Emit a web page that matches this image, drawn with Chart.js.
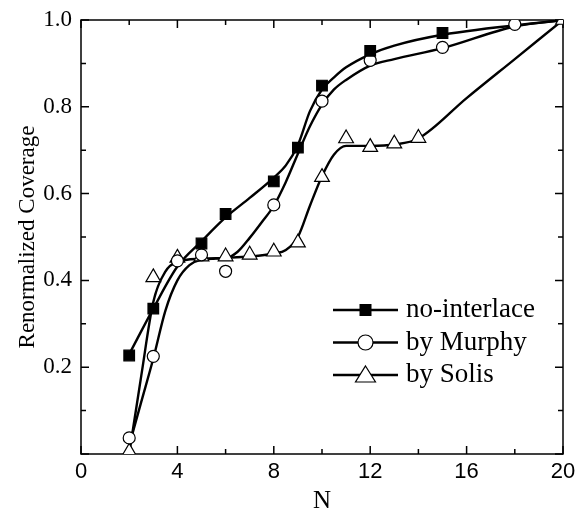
<!DOCTYPE html>
<html>
<head>
<meta charset="utf-8">
<script src="https://cdn.jsdelivr.net/npm/chart.js@4"></script>
<style>
  html, body { margin: 0; padding: 0; background: #fff; }
  #wrap { width: 576px; height: 516px; }
</style>
</head>
<body>
<div id="wrap"><canvas id="chart" width="576" height="516"></canvas></div>
<script>
// ── Datos ────────────────────────────────────────────────────
const xTickLabels = [0, 4, 8, 12, 16, 20];
const yTickLabels = [0.2, 0.4, 0.6, 0.8, 1.0];

// marcadores
const nNoInterlace   = [2, 3, 5, 6, 8, 9, 10, 12, 15];
const covNoInterlace = [0.227, 0.335, 0.485, 0.553, 0.628, 0.706, 0.849, 0.929, 0.970];

const nMurphy   = [2, 3, 4, 5, 6, 8, 10, 12, 15, 18];
const covMurphy = [0.037, 0.225, 0.445, 0.459, 0.421, 0.574, 0.813, 0.907, 0.937, 0.990];

const nSolis   = [2, 3, 4, 5, 6, 7, 8, 9, 10, 11, 12, 13, 14, 20];
const covSolis = [0.005, 0.407, 0.452, 0.455, 0.455, 0.459, 0.466, 0.487, 0.638, 0.727, 0.707, 0.715, 0.728, 1.0];

const fitNoInterlaceN = [2, 3, 4, 5, 6, 7, 8, 8.5, 9, 9.5, 10, 10.5, 11, 12, 13, 15, 20];
const fitNoInterlace  = [0.23, 0.335, 0.432, 0.49, 0.545, 0.59, 0.637, 0.665, 0.712, 0.79, 0.84, 0.868, 0.891, 0.921, 0.941, 0.966, 1.0];

const fitMurphyN = [2, 2.5, 3, 3.5, 4, 4.5, 5, 5.5, 6, 6.5, 7, 7.5, 8, 8.5, 9, 9.5, 10, 10.5, 11, 12, 13, 15, 18, 20];
const fitMurphy  = [0.02, 0.12, 0.22, 0.33, 0.40, 0.435, 0.448, 0.45, 0.451, 0.466, 0.498, 0.534, 0.572, 0.627, 0.692, 0.755, 0.805, 0.84, 0.862, 0.895, 0.91, 0.935, 0.985, 1.0];

const fitSolisN = [2, 2.5, 3, 3.5, 4, 5, 6, 7, 8, 8.5, 9, 9.5, 10, 10.5, 11, 12, 13, 14, 16, 18, 20];
const fitSolis  = [0.0, 0.18, 0.35, 0.42, 0.443, 0.45, 0.452, 0.455, 0.462, 0.47, 0.5, 0.572, 0.64, 0.69, 0.71, 0.71, 0.713, 0.727, 0.82, 0.91, 1.0];

const SERIF = "'Liberation Serif', 'Times New Roman', serif";
const SANS  = "'Liberation Sans', Arial, sans-serif";

const pares = (xs, ys) => xs.map((x, i) => ({ x, y: ys[i] }));

function curva(xs, ys) {
  return {
    data: pares(xs, ys), showLine: true, pointRadius: 0,
    borderColor: '#000', borderWidth: 2.4, cubicInterpolationMode: 'monotone',
    order: 2
  };
}

function marcas(label, xs, ys, estilo, relleno, radio) {
  return {
    label, data: pares(xs, ys), showLine: false,
    pointStyle: estilo, pointRadius: radio, pointBackgroundColor: relleno,
    pointBorderColor: '#000', pointBorderWidth: 1.2, order: 1
  };
}

// ── Marco con ticks hacia adentro ────────────────────────────
const marcoTicks = {
  id: 'marcoTicks',
  beforeDatasetsDraw(chart) {
    const { ctx, chartArea: a, scales: { x, y } } = chart;
    ctx.save();
    ctx.strokeStyle = '#000';
    ctx.lineWidth = 1.5;
    ctx.strokeRect(a.left, a.top, a.right - a.left, a.bottom - a.top);
    ctx.beginPath();
    for (let v = 0; v <= 20; v += 2) {
      const px = x.getPixelForValue(v);
      const len = v % 4 === 0 ? 8 : 5;
      ctx.moveTo(px, a.bottom); ctx.lineTo(px, a.bottom - len);
      ctx.moveTo(px, a.top);    ctx.lineTo(px, a.top + len);
    }
    for (let i = 0; i <= 10; i++) {
      const py = y.getPixelForValue(i / 10);
      const len = i % 2 === 0 ? 8 : 5;
      ctx.moveTo(a.left, py);  ctx.lineTo(a.left + len, py);
      ctx.moveTo(a.right, py); ctx.lineTo(a.right - len, py);
    }
    ctx.stroke();
    ctx.restore();
  }
};

// ── Leyenda dentro del área ─────────────────────────────────
const leyenda = {
  id: 'leyenda',
  afterDraw(chart) {
    const { ctx, chartArea: a } = chart;
    const items = [
      { t: 'no-interlace', s: 'rect' },
      { t: 'by Murphy', s: 'circle' },
      { t: 'by Solis', s: 'triangle' }
    ];
    const x0 = a.right - 230, x1 = a.right - 165, xm = (x0 + x1) / 2;
    ctx.save();
    ctx.font = '27px ' + SERIF;
    ctx.textBaseline = 'middle';
    ctx.fillStyle = '#000';
    items.forEach((it, i) => {
      const yy = a.top + 290 + i * 32.5;
      ctx.strokeStyle = '#000';
      ctx.lineWidth = 2.4;
      ctx.beginPath(); ctx.moveTo(x0, yy); ctx.lineTo(x1, yy); ctx.stroke();
      ctx.lineWidth = 1.2;
      ctx.beginPath();
      if (it.s === 'rect') {
        ctx.fillStyle = '#000';
        ctx.fillRect(xm - 6, yy - 6, 12, 12);
      } else if (it.s === 'circle') {
        ctx.fillStyle = '#fff';
        ctx.arc(xm, yy, 7.5, 0, Math.PI * 2);
        ctx.fill(); ctx.stroke();
      } else {
        ctx.fillStyle = '#fff';
        ctx.moveTo(xm, yy - 9); ctx.lineTo(xm + 10, yy + 7); ctx.lineTo(xm - 10, yy + 7); ctx.closePath();
        ctx.fill(); ctx.stroke();
      }
      ctx.fillStyle = '#000';
      ctx.fillText(it.t, x1 + 8, yy);
    });
    ctx.restore();
  }
};

new Chart(document.getElementById('chart'), {
  type: 'scatter',
  data: {
    datasets: [
      curva(fitNoInterlaceN, fitNoInterlace),
      curva(fitMurphyN, fitMurphy),
      curva(fitSolisN, fitSolis),
      marcas('no-interlace', nNoInterlace, covNoInterlace, 'rect', '#000', 7.5),
      marcas('by Murphy', nMurphy, covMurphy, 'circle', '#fff', 6),
      marcas('by Solis', nSolis, covSolis, 'triangle', '#fff', 8.5)
    ]
  },
  options: {
    responsive: false, animation: false,
    layout: { padding: { top: 20, right: 13, left: 0, bottom: 0 } },
    plugins: { legend: { display: false }, tooltip: { enabled: false } },
    scales: {
      x: {
        type: 'linear', min: 0, max: 20,
        afterFit: s => { s.height = 62; s.paddingLeft = 0; s.paddingRight = 0; },
        grid: { display: false, drawTicks: false },
        border: { display: false },
        ticks: {
          stepSize: 2, padding: 5, color: '#000', maxRotation: 0,
          font: { family: SANS, size: 22 },
          callback: v => xTickLabels.includes(v) ? String(v) : ''
        },
        title: { display: true, text: 'N', color: '#000', font: { family: SERIF, size: 25 }, padding: { top: 0, bottom: 0 } }
      },
      y: {
        type: 'linear', min: 0, max: 1,
        afterFit: s => { s.width = 81; s.paddingTop = 0; s.paddingBottom = 0; },
        grid: { display: false, drawTicks: false },
        border: { display: false },
        ticks: {
          stepSize: 0.1, padding: 9, color: '#000',
          font: { family: SERIF, size: 23 },
          callback: v => {
            const r = Math.round(v * 10) / 10;
            return yTickLabels.includes(r) ? r.toFixed(1) : '';
          }
        },
        title: { display: true, text: 'Renormalized Coverage', color: '#000', font: { family: SERIF, size: 23 }, padding: { top: 14, bottom: 0 } }
      }
    }
  },
  plugins: [marcoTicks, leyenda]
});
</script>
</body>
</html>
